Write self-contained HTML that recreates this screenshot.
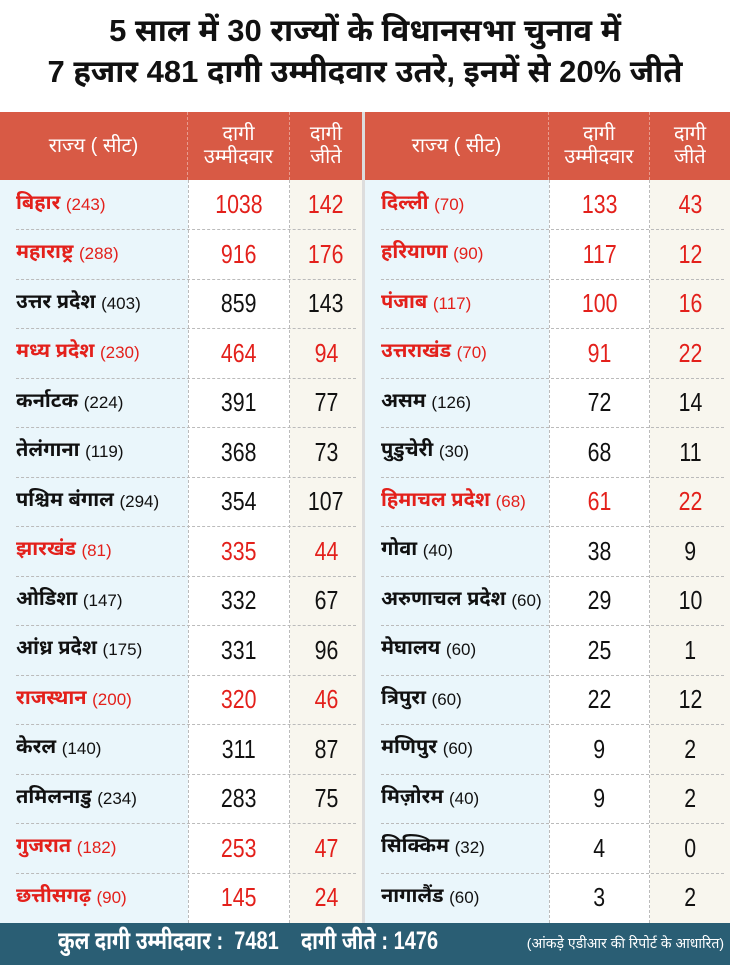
<!DOCTYPE html>
<html><head><meta charset="utf-8"><style>
*{margin:0;padding:0;box-sizing:border-box}
body{width:730px;height:965px;background:#fff;font-family:"Liberation Sans","Noto Sans Devanagari","Lohit Devanagari",sans-serif;position:relative;overflow:hidden}
.title{position:absolute;top:10px;left:0;width:730px;text-align:center;font-weight:bold;font-size:31px;line-height:41px;color:#111}
.hdr{position:absolute;top:112px;height:68px;background:#d85a45;color:#fff;left:0;width:730px}
.col{position:absolute;top:180px;height:743px}
.h{position:absolute;top:112px;height:68px;display:flex;align-items:center;justify-content:center;text-align:center;color:#fff;font-size:20px;line-height:23px;border-right:1px dashed rgba(255,255,255,.4)}
.row{position:absolute;height:49.5px;display:flex;align-items:center;font-size:20px;color:#111}
.n span{display:inline-block;transform:scaleX(.82);font-size:26px}
.r{color:#e3201b}
.foot{position:absolute;top:923px;left:0;width:730px;height:42px;background:#2a5e74;color:#fff}
</style></head><body>
<div class="title">5 साल में 30 राज्यों के विधानसभा चुनाव में<br>7 हजार 481 दागी उम्मीदवार उतरे, इनमें से 20% जीते</div>
<div class="hdr"></div>
<div class="col" style="left:0;width:188px;background:#eaf6fb"></div>
<div class="col" style="left:188px;width:102px;background:#fff;border-left:1px dashed #bbb;border-right:1px dashed #bbb"></div>
<div class="col" style="left:290px;width:72px;background:#f8f6ee"></div>
<div class="col" style="left:362px;width:3px;background:#ddd;top:112px;height:811px"></div>
<div class="col" style="left:365px;width:184px;background:#eaf6fb"></div>
<div class="col" style="left:549px;width:101px;background:#fff;border-left:1px dashed #bbb;border-right:1px dashed #bbb"></div>
<div class="col" style="left:650px;width:80px;background:#f8f6ee"></div>
<div class="h" style="left:0;width:188px">राज्य ( सीट)</div>
<div class="h" style="left:188px;width:102px">दागी<br>उम्मीदवार</div>
<div class="h" style="left:290px;width:72px;border:none">दागी<br>जीते</div>
<div class="h" style="left:365px;width:184px">राज्य ( सीट)</div>
<div class="h" style="left:549px;width:101px">दागी<br>उम्मीदवार</div>
<div class="h" style="left:650px;width:80px;border:none">दागी<br>जीते</div>
<div id="rows"></div>
<script>
var L=[["बिहार",243,1038,142,1],["महाराष्ट्र",288,916,176,1],["उत्तर प्रदेश",403,859,143,0],["मध्य प्रदेश",230,464,94,1],["कर्नाटक",224,391,77,0],["तेलंगाना",119,368,73,0],["पश्चिम बंगाल",294,354,107,0],["झारखंड",81,335,44,1],["ओडिशा",147,332,67,0],["आंध्र प्रदेश",175,331,96,0],["राजस्थान",200,320,46,1],["केरल",140,311,87,0],["तमिलनाडु",234,283,75,0],["गुजरात",182,253,47,1],["छत्तीसगढ़",90,145,24,1]];
var R=[["दिल्ली",70,133,43,1],["हरियाणा",90,117,12,1],["पंजाब",117,100,16,1],["उत्तराखंड",70,91,22,1],["असम",126,72,14,0],["पुडुचेरी",30,68,11,0],["हिमाचल प्रदेश",68,61,22,1],["गोवा",40,38,9,0],["अरुणाचल प्रदेश",60,29,10,0],["मेघालय",60,25,1,0],["त्रिपुरा",60,22,12,0],["मणिपुर",60,9,2,0],["मिज़ोरम",40,9,2,0],["सिक्किम",32,4,0,0],["नागालैंड",60,3,2,0]];
var h="";
function add(d,x0,w0,x1,w1,x2,w2){d.forEach(function(r,i){var t=180+i*49.5,c=r[4]?' r':'';
h+='<div class="row'+c+'" style="top:'+t+'px;left:'+(x0+16)+'px;width:'+(w0-16)+'px"><b>'+r[0]+'</b>&nbsp;<span style="font-size:17px">('+r[1]+')</span></div>';
h+='<div class="row n'+c+'" style="top:'+t+'px;left:'+x1+'px;width:'+w1+'px;justify-content:center"><span>'+r[2]+'</span></div>';
h+='<div class="row n'+c+'" style="top:'+t+'px;left:'+x2+'px;width:'+w2+'px;justify-content:center"><span>'+r[3]+'</span></div>';
if(i<14)h+='<div style="position:absolute;top:'+(t+49)+'px;left:'+(x0+16)+'px;width:'+(w0+w1+w2-22)+'px;border-top:1px dashed #bbb"></div>';});}
add(L,0,188,188,102,290,72);add(R,365,184,549,101,650,80);
document.getElementById("rows").innerHTML=h;
</script>
<div class="foot">
<div style="position:absolute;left:58px;top:4px;font-size:25px;font-weight:bold;transform:scaleX(.8);transform-origin:left center;white-space:nowrap">कुल दागी उम्मीदवार : &nbsp;7481 &nbsp;&nbsp; दागी जीते : 1476</div>
<div style="position:absolute;right:6px;top:12px;font-size:14px">(आंकड़े एडीआर की रिपोर्ट के आधारित)</div>
</div>
</body></html>
